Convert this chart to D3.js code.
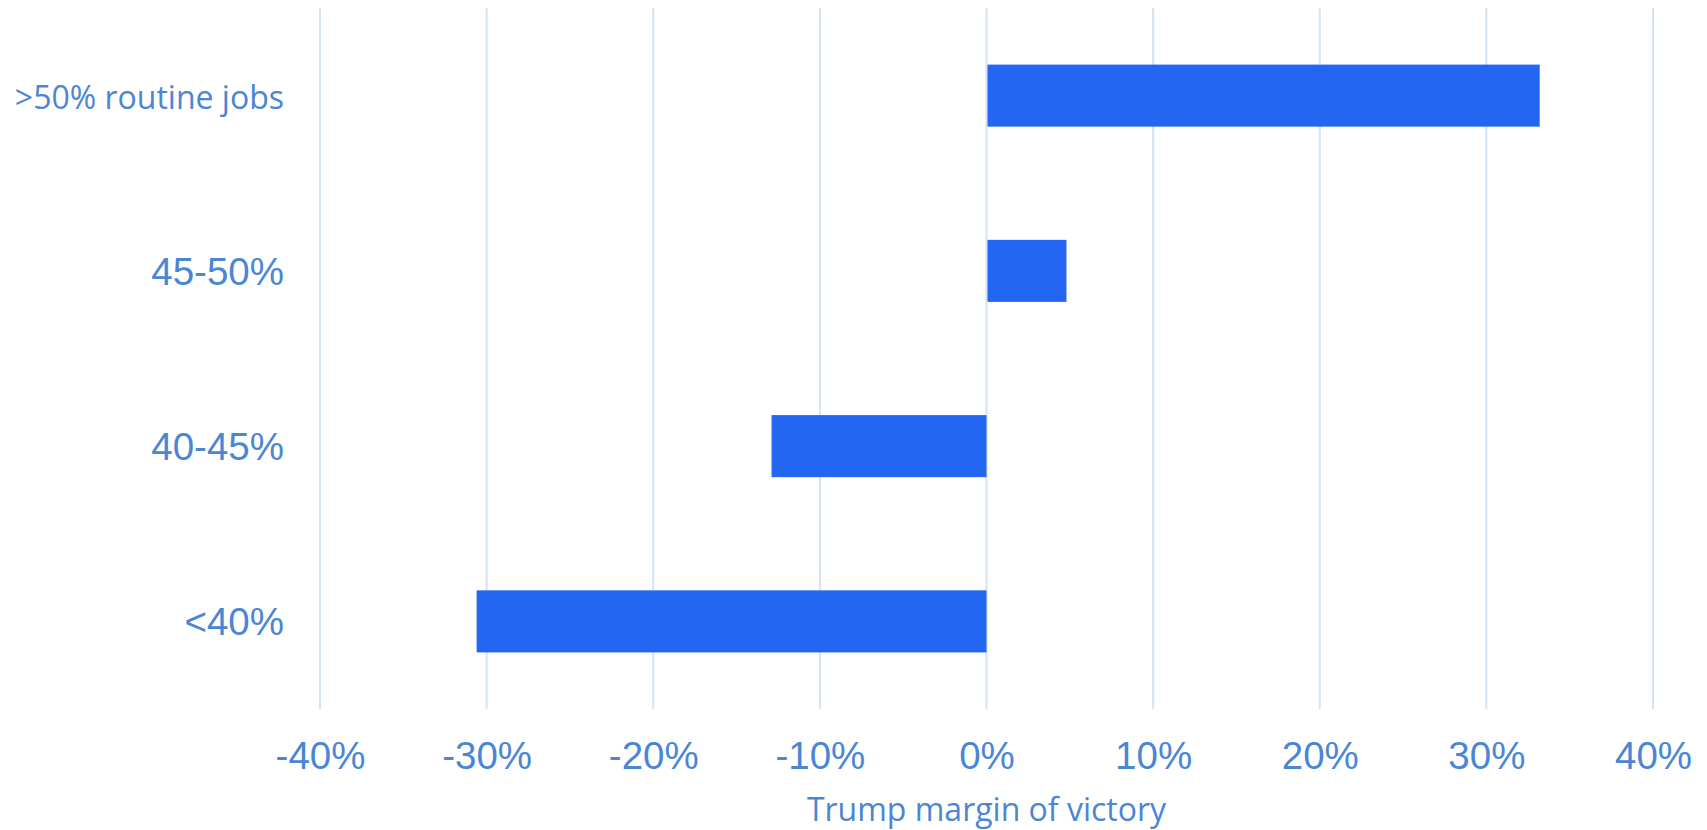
<!DOCTYPE html>
<html>
<head>
<meta charset="utf-8">
<script src="https://cdn.jsdelivr.net/npm/d3@7"></script>
<style>
  html, body { margin: 0; padding: 0; background: #ffffff; }
  svg { display: block; }
</style>
</head>
<body>
<svg id="chart" width="1707" height="830"></svg>
<script>
// ---- data ----
const categories = [">50% routine jobs", "45-50%", "40-45%", "<40%"];
const margins = [33.2, 4.8, -12.9, -30.6];
const tickValues = [-40, -30, -20, -10, 0, 10, 20, 30, 40];
const tickLabels = ["-40%", "-30%", "-20%", "-10%", "0%", "10%", "20%", "30%", "40%"];
const axisTitle = "Trump margin of victory";

// ---- styles ----
const barColor = "#2266f2";
const textColor = "#4a86d4";
const gridColor = "#d5e3f5";

const svg = d3.select("#chart");
const plotTop = 8, plotBottom = 709, plotLeft = 320, plotRight = 1653;

const x = d3.scaleLinear().domain([-40, 40]).range([plotLeft, plotRight]);
const y = d3.scaleBand().domain(categories).range([plotTop, plotBottom])
  .paddingInner(0.646).paddingOuter(0.323);

// gridlines
svg.append("g").selectAll("line").data(tickValues).join("line")
  .attr("x1", d => x(d)).attr("x2", d => x(d))
  .attr("y1", plotTop).attr("y2", plotBottom)
  .attr("stroke", gridColor).attr("stroke-width", 2);

// bars
svg.append("g").selectAll("rect").data(categories.map((c, i) => ({c, v: margins[i]}))).join("rect")
  .attr("x", d => d.v >= 0 ? x(0) + 1 : x(d.v))
  .attr("width", d => d.v >= 0 ? x(d.v) - x(0) - 1 : x(0) - x(d.v))
  .attr("y", d => y(d.c))
  .attr("height", y.bandwidth())
  .attr("fill", barColor);

// x axis
const xAxis = d3.axisBottom(x).tickValues(tickValues)
  .tickFormat((d, i) => tickLabels[i]).tickSize(0).tickPadding(33);
const gx = svg.append("g").attr("transform", `translate(0,${plotBottom})`).call(xAxis);
gx.select(".domain").remove();
gx.selectAll("text")
  .attr("fill", textColor)
  .style("font-family", "'Liberation Sans', Arial, sans-serif")
  .style("font-size", "38.5px");

// y axis
const yAxis = d3.axisLeft(y).tickSize(0).tickPadding(36);
const gy = svg.append("g").attr("transform", `translate(${plotLeft},0)`).call(yAxis);
gy.select(".domain").remove();
gy.selectAll("text")
  .attr("fill", textColor)
  .attr("dy", (d, i) => i === 0 ? "13px" : "14px")
  .style("font-family", (d, i) => i === 0 ? "'Open Sans', sans-serif" : "'Liberation Sans', Arial, sans-serif")
  .style("font-size", (d, i) => i === 0 ? "32px" : "38.5px");

// axis title
svg.append("text")
  .attr("x", x(0)).attr("y", 821)
  .attr("text-anchor", "middle")
  .attr("fill", textColor)
  .style("font-family", "'Open Sans', sans-serif")
  .style("font-size", "32px")
  .text(axisTitle);
</script>
</body>
</html>
